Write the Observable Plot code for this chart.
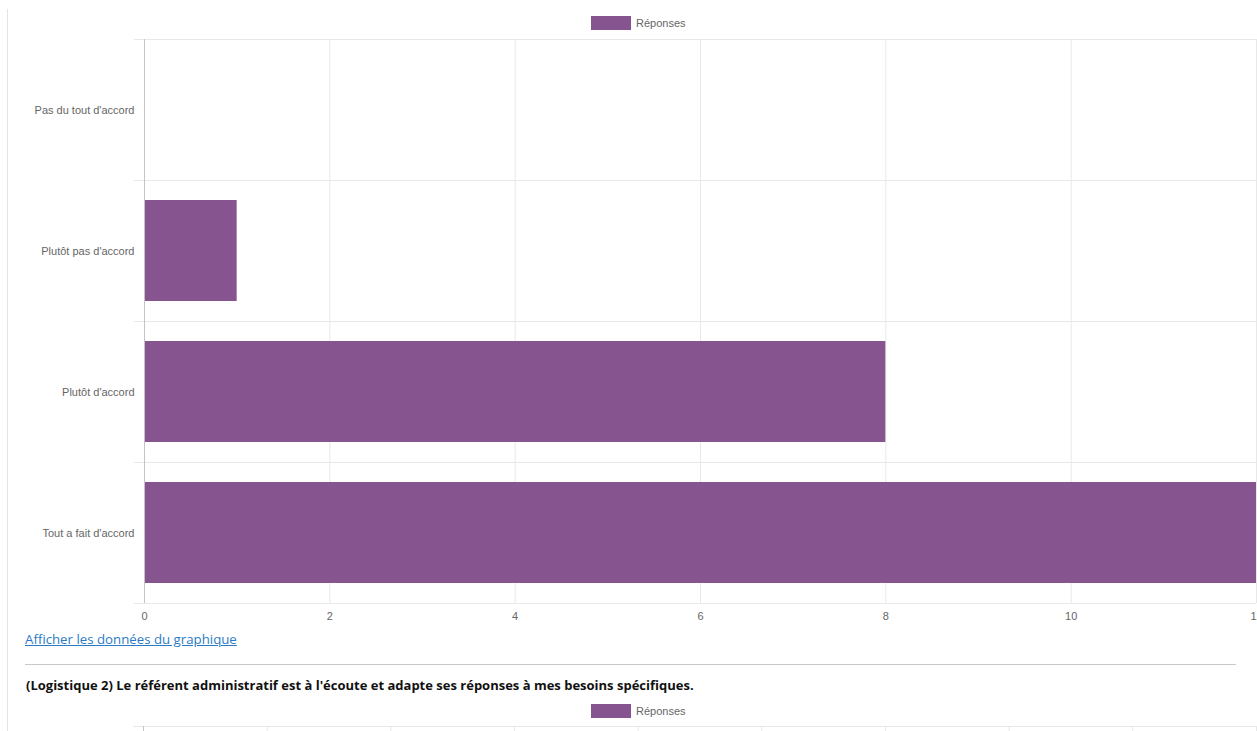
<!DOCTYPE html>
<html>
<head>
<meta charset="utf-8">
<script src="https://cdn.jsdelivr.net/npm/d3@7"></script>
<script src="https://cdn.jsdelivr.net/npm/@observablehq/plot@0.6"></script>
<style>
  html, body { margin: 0; padding: 0; background: #fff; overflow: hidden; width: 1257px; height: 731px; }
  #page { position: relative; width: 1257px; height: 731px; overflow: hidden; }
  .frame { position: absolute; left: 7px; top: 9px; width: 1px; height: 740px; background: #e4e4e4; }
  .legend { position: absolute; left: 591px; display: flex; align-items: center; font-family: "Liberation Sans", Arial, sans-serif; font-size: 11px; color: #666; }
  .legend .sw { width: 40px; height: 14px; background: #86558f; margin-right: 5px; }
  .chart { position: absolute; left: 0; }
  .link { position: absolute; left: 25px; top: 630px; font-family: "Open Sans", sans-serif; font-size: 13.25px; color: #2b7bc4; text-decoration: underline; }
  .hr { position: absolute; left: 25px; top: 664px; width: 1211px; height: 1px; background: #c8c8c8; }
  .title { position: absolute; left: 26px; top: 676px; font-family: "Open Sans", sans-serif; font-weight: bold; font-size: 13px; color: #111; white-space: nowrap; }
</style>
</head>
<body>
<div id="page">
  <div class="frame"></div>
  <div class="legend" id="legend1" style="top:16px"></div>
  <div class="chart" id="chart1" style="top:38px"></div>
  <div class="link" id="link"></div>
  <div class="hr"></div>
  <div class="title" id="title2"></div>
  <div class="legend" id="legend2" style="top:704px"></div>
  <div class="chart" id="chart2" style="top:725px"></div>
</div>
<script>
// ---- data ----
const categories = ["Pas du tout d'accord", "Plutôt pas d'accord", "Plutôt d'accord", "Tout a fait d'accord"];
const responses = [0, 1, 8, 12];
const xTicks = [0, 2, 4, 6, 8, 10, 12];
const seriesName = "Réponses";
const linkText = "Afficher les données du graphique";
const nextTitle = "(Logistique 2) Le référent administratif est à l'écoute et adapte ses réponses à mes besoins spécifiques.";
const nextXTicks = [0, 1, 2, 3, 4, 5, 6, 7, 8, 9];

// ---- styles ----
const barColor = "#86558f";
const gridColor = "#e8e8e8";
const axisColor = "#c4c4c4";
const textColor = "#666";

const rows = categories.map((c, i) => ({category: c, index: i, value: responses[i]}));
const boundaries = d3.range(categories.length + 1);
const centers = categories.map((c, i) => i + 0.5);

function legend(el) {
  const sw = document.createElement("div"); sw.className = "sw";
  const t = document.createElement("span"); t.textContent = seriesName;
  el.append(sw, t);
}
legend(document.getElementById("legend1"));
legend(document.getElementById("legend2"));
document.getElementById("link").textContent = linkText;
document.getElementById("title2").textContent = nextTitle;

const chart1 = Plot.plot({
  width: 1257,
  height: 589,
  marginTop: 1,
  marginBottom: 24,
  marginLeft: 144,
  marginRight: 1,
  style: {fontFamily: "'Liberation Sans', Arial, sans-serif", fontSize: "11px", color: textColor, background: "transparent", overflow: "visible"},
  x: {domain: [0, 12], label: null},
  y: {domain: [0, categories.length], reverse: true, label: null},
  marks: [
    Plot.gridX(xTicks, {stroke: gridColor, strokeOpacity: 1}),
    Plot.gridY(boundaries, {stroke: gridColor, strokeOpacity: 1}),
    Plot.axisY(boundaries, {tickSize: 10, tickFormat: () => "", stroke: gridColor, strokeOpacity: 1, label: null}),
    Plot.axisY(centers, {tickSize: 0, tickPadding: 10, tickFormat: v => categories[Math.floor(v)], fill: textColor, fontSize: 11, label: null}),
    Plot.rectX(rows, {x1: 0, x2: "value", y1: "index", y2: d => d.index + 1, insetTop: 20, insetBottom: 20, fill: barColor}),
    Plot.ruleX([0], {stroke: axisColor}),
    Plot.axisX(xTicks, {tickSize: 0, tickPadding: 9, fill: textColor, fontSize: 11, label: null})
  ]
});
document.getElementById("chart1").append(chart1);

// Top edge of the next chart (the rest is below the fold)
const chart2 = Plot.plot({
  width: 1257,
  height: 589,
  marginTop: 1,
  marginBottom: 24,
  marginLeft: 143,
  marginRight: 1,
  style: {fontFamily: "'Liberation Sans', Arial, sans-serif", fontSize: "11px", color: textColor, background: "transparent"},
  x: {domain: [0, 9], label: null, axis: null},
  y: {domain: [0, categories.length], reverse: true, label: null},
  marks: [
    Plot.gridX(nextXTicks, {stroke: gridColor, strokeOpacity: 1}),
    Plot.gridY(boundaries, {stroke: gridColor, strokeOpacity: 1}),
    Plot.axisY(boundaries, {tickSize: 10, tickFormat: () => "", stroke: gridColor, strokeOpacity: 1, label: null}),
    Plot.ruleX([0], {stroke: axisColor})
  ]
});
document.getElementById("chart2").append(chart2);
</script>
</body>
</html>
